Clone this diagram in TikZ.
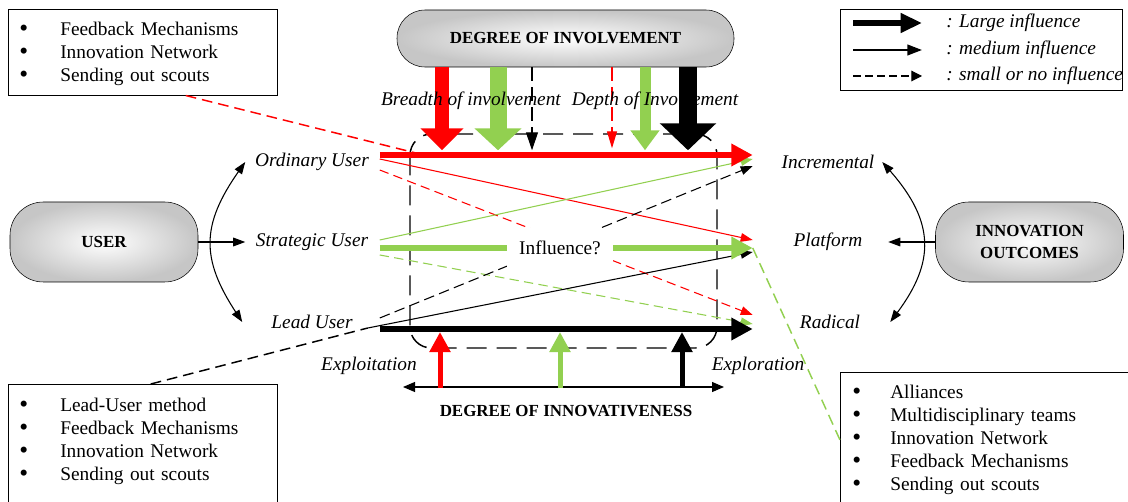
\documentclass[tikz,border=0pt]{standalone}
\usepackage{fontspec}
\setmainfont{Liberation Serif}
\usetikzlibrary{arrows.meta}

\definecolor{lgreen}{RGB}{146,208,80}
\newcommand\bul{{\fontsize{19}{17.25}\selectfont\raisebox{-1pt}{\textbullet}}}

\tikzset{
  txt/.style={font=\fontsize{14.5}{17.25}\selectfont},
  itl/.style={font=\fontsize{14.5}{17.25}\selectfont\itshape},
  hd/.style={font=\fontsize{12.7}{16.5}\selectfont\bfseries},
  pill/.style={hd, draw, rounded corners=21pt, shade, inner color=white, outer color=gray!45, align=center},
  listbox/.style={txt, draw, anchor=north west, inner sep=0pt, align=left},
  userlbl/.style={itl, minimum width=101.25pt, inner xsep=0pt},
  outlbl/.style={itl, minimum width=112.5pt, inner xsep=0pt},
  big/.style={line width=4.5pt, -{Triangle[length=16pt,width=16pt]}},
  med/.style={line width=0.8pt, -{Triangle[length=9pt,width=6.5pt]}},
  sml/.style={med, dash pattern=on 7pt off 4pt},
  lnk/.style={line width=1.1pt, dash pattern=on 8pt off 4.5pt},
  ctip/.tip={Triangle[length=9pt,width=6.5pt]}
}

\begin{document}
\begin{tikzpicture}[x=0.75pt,y=-0.75pt]
\useasboundingbox (0,0) rectangle (1128,502);

% boxes with methods
\node[listbox, inner xsep=8.25pt, text width=185.25pt, text height=19.5pt, text depth=45pt] (tlbox) at (8,9)
  {\begin{tabular}[t]{@{}p{30.75pt}@{}l@{}}
   \bul & Feedback Mechanisms\\
   \bul & Innovation Network\\
   \bul & Sending out scouts
   \end{tabular}};
\node[listbox, inner xsep=8.25pt, text width=185.25pt, text height=20.25pt, text depth=85pt] (blbox) at (8,384)
  {\begin{tabular}[t]{@{}p{30.75pt}@{}l@{}}
   \bul & Lead-User method\\
   \bul & Feedback Mechanisms\\
   \bul & Innovation Network\\
   \bul & Sending out scouts
   \end{tabular}};
\node[listbox, inner xsep=9pt, text width=203.25pt, text height=19.5pt, text depth=95pt] (brbox) at (840,372)
  {\begin{tabular}[t]{@{}p{28.5pt}@{}l@{}}
   \bul & Alliances\\
   \bul & Multidisciplinary teams\\
   \bul & Innovation Network\\
   \bul & Feedback Mechanisms\\
   \bul & Sending out scouts
   \end{tabular}};

% legend
\node[draw, minimum width=211.5pt, minimum height=60.75pt, inner sep=0pt] (lgd) at (981,49.5) {};
\node[itl, anchor=west, inner sep=0pt] (lgl) at (946,23) {: Large influence};
\node[itl, anchor=west, inner sep=0pt] (lgm) at (946,50) {: medium influence};
\node[itl, anchor=west, inner sep=0pt] (lgs) at (946,76) {: small or no influence};
\draw[line width=4.5pt, -{Triangle[length=16pt,width=14pt]}] ([shift={(-93,0)}]lgl.west) -- ([shift={(-24,0)}]lgl.west);
\draw[line width=1.5pt, -{Triangle[length=11pt,width=8pt]}] ([shift={(-93,0)}]lgm.west) -- ([shift={(-24,0)}]lgm.west);
\draw[line width=0.8pt, dash pattern=on 6pt off 3pt, -{Triangle[length=8pt,width=8pt]}] ([shift={(-93,0)}]lgs.west) -- ([shift={(-24,0)}]lgs.west);

% main boxes
\node[pill, minimum width=252.75pt, minimum height=42.75pt] (doi) at (565.5,38.5) {DEGREE OF INVOLVEMENT};
\node[pill, rounded corners=25pt, minimum width=141pt, minimum height=60pt] (user) at (104,242) {USER};
\node[pill, rounded corners=25pt, minimum width=141pt, minimum height=60pt] (outc) at (1029.5,242) {INNOVATION\\OUTCOMES};

% users and outcomes
\node[userlbl] (ordu) at (312,162) {Ordinary User};
\node[userlbl] (stru) at (312,242) {Strategic User};
\node[userlbl] (leadu) at (312,322) {Lead User};
\node[outlbl] (inc) at (828,162) {Incremental};
\node[outlbl] (plat) at (828,242) {Platform};
\node[outlbl] (rad) at (830,322) {Radical};

\draw[med] (user.east) -- ([shift={(1,0)}]stru.west);
\draw[med] (outc.west) -- ([shift={(-15,0)}]plat.east);
\draw[line width=0.8pt, ctip-ctip] ([shift={(1,0)}]ordu.west) .. controls (201,225) and (201,259) .. ([shift={(-2,0)}]leadu.west);
\draw[line width=0.8pt, ctip-ctip] ([shift={(-21,0)}]inc.east) .. controls (935,222) and (935,262) .. ([shift={(-15,0)}]rad.east);

% dashed frame
\draw[line width=1.1pt, dash pattern=on 15pt off 7.5pt, rounded corners=16pt] (410,134) rectangle (717,348);

% thin influences
\draw[med, red] ([shift={(0,-3)}]ordu.east) -- ([shift={(0,-2)}]plat.west);
\draw[sml, red] ([shift={(0,8)}]ordu.east) -- ([shift={(-2,-7)}]rad.west);
\draw[med, lgreen] ([shift={(0,-2)}]stru.east) -- ([shift={(0,-3)}]inc.west);
\draw[sml, lgreen] ([shift={(0,13)}]stru.east) -- ([shift={(-2,2)}]rad.west);
\draw[med] ([shift={(-12,6)}]leadu.east) -- ([shift={(0,10)}]plat.west);
\draw[sml, dash pattern=on 8pt off 4pt] ([shift={(0,-4)}]leadu.east) -- ([shift={(0,4)}]inc.west);

% large influences
\draw[big, red] ([shift={(0,-7)}]ordu.east) -- ([shift={(0,-7)}]inc.west);
\draw[big, lgreen] ([shift={(0,6)}]stru.east) -- ([shift={(0,6)}]plat.west);
\draw[big] ([shift={(0,7)}]leadu.east) -- ([shift={(-2,7)}]rad.west);

\node[txt, fill=white, minimum width=79.5pt, minimum height=30pt] (infl) at (560,248) {Influence?};

% links to the boxes
\draw[lnk, red] ([shift={(43,0)}]tlbox.south) -- ([shift={(36,-9)}]ordu.east);
\draw[lnk] ([shift={(8,0)}]blbox.north) -- ([shift={(-12,6)}]leadu.east);
\draw[lnk, lgreen] ([shift={(0,6)}]plat.west) -- ([shift={(0,68)}]brbox.north west);

% degree of involvement
\draw[red, line width=10.5pt, -{Triangle[length=16.5pt,width=31.5pt]}] ([shift={(-123.5,0)}]doi.south) -- ++(0,83);
\draw[lgreen, line width=12.75pt, -{Triangle[length=16.5pt,width=34.5pt]}] ([shift={(-67.5,0)}]doi.south) -- ++(0,83);
\draw[line width=0.8pt, dash pattern=on 10pt off 5pt, -{Triangle[length=13.5pt,width=9pt]}] ([shift={(-33.5,0)}]doi.south) -- ++(0,83);
\draw[red, line width=0.8pt, dash pattern=on 10pt off 5pt, -{Triangle[length=12.75pt,width=7.5pt]}] ([shift={(46.5,0)}]doi.south) -- ++(0,81);
\draw[lgreen, line width=8.25pt, -{Triangle[length=15pt,width=21pt]}] ([shift={(79.5,0)}]doi.south) -- ++(0,83);
\draw[line width=13.5pt, -{Triangle[length=20.25pt,width=41.25pt]}] ([shift={(122.5,0)}]doi.south) -- ++(0,83);

\node[itl] (brd) at (471,101) {Breadth of involvement};
\node[itl] (dpt) at (655,101) {Depth of Involvement};

% degree of innovativeness
\draw[line width=0.8pt, {Triangle[length=9pt,width=7.5pt]}-{Triangle[length=9pt,width=7.5pt]}] (403,387) -- (724,387);
\foreach \x/\c in {440/red,560/lgreen,682/black}
  \draw[\c, line width=3.75pt, -{Triangle[length=15pt,width=15pt]}] (\x,388) -- (\x,332);
\node[itl] (expt) at (369,366) {Exploitation};
\node[itl] (expr) at (758,366) {Exploration};
\node[hd] (doinn) at (566,411) {DEGREE OF INNOVATIVENESS};
\end{tikzpicture}
\end{document}
